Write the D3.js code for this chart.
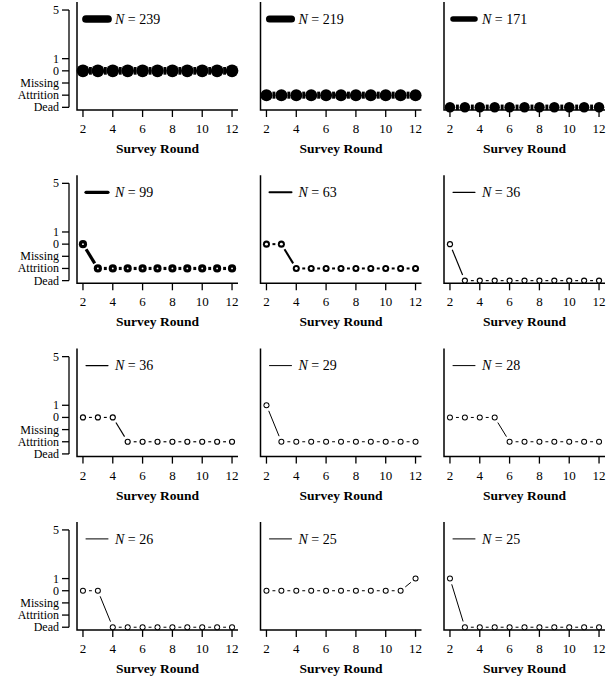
<!DOCTYPE html>
<html>
<head>
<meta charset="utf-8">
<script src="https://cdn.jsdelivr.net/npm/d3@7"></script>
<style>
  body { margin: 0; background: #fff; }
  text { font-family: "Liberation Serif", "DejaVu Serif", serif; fill: #000; }
</style>
</head>
<body>
<div id="my_dataviz"></div>
<script>
// survey rounds on the x axis
const rounds = [2, 3, 4, 5, 6, 7, 8, 9, 10, 11, 12];
const xTicks = [2, 4, 6, 8, 10, 12];

// y axis: numeric codes and their labels
const yTickValues = [5, 1, 0, -1, -2, -3];
const yTickLabels = ["5", "1", "0", "Missing", "Attrition", "Dead"];

// group sizes, one per panel
const counts = [239, 219, 171, 99, 63, 36, 36, 29, 28, 26, 25, 25];

// trajectory of each group (one value per round)
const traj1 = [0, 0, 0, 0, 0, 0, 0, 0, 0, 0, 0];
const traj2 = [-2, -2, -2, -2, -2, -2, -2, -2, -2, -2, -2];
const traj3 = [-3, -3, -3, -3, -3, -3, -3, -3, -3, -3, -3];
const traj4 = [0, -2, -2, -2, -2, -2, -2, -2, -2, -2, -2];
const traj5 = [0, 0, -2, -2, -2, -2, -2, -2, -2, -2, -2];
const traj6 = [0, -3, -3, -3, -3, -3, -3, -3, -3, -3, -3];
const traj7 = [0, 0, 0, -2, -2, -2, -2, -2, -2, -2, -2];
const traj8 = [1, -2, -2, -2, -2, -2, -2, -2, -2, -2, -2];
const traj9 = [0, 0, 0, 0, -2, -2, -2, -2, -2, -2, -2];
const traj10 = [0, 0, -3, -3, -3, -3, -3, -3, -3, -3, -3];
const traj11 = [0, 0, 0, 0, 0, 0, 0, 0, 0, 0, 1];
const traj12 = [1, -3, -3, -3, -3, -3, -3, -3, -3, -3, -3];
const trajectories = [traj1, traj2, traj3, traj4, traj5, traj6, traj7, traj8, traj9, traj10, traj11, traj12];

// layout
const width = 615, height = 683;
const colStep = 183.5, rowStep = 173.3;
const boxLeft = 77, boxRight = 238, boxTop = 2, boxBottom = 110;
const pointR = 2.5, gap = 6;

const svg = d3.select("#my_dataviz")
  .append("svg")
  .attr("width", width)
  .attr("height", height);

// shared scales (panel-local coordinates)
const x = d3.scaleLinear().domain([1.6, 12.4]).range([boxLeft, boxRight]);
const y = d3.scaleLinear().domain([-3.22, 5.66]).range([boxBottom, boxTop]);

counts.forEach((n, i) => {
  const col = i % 3, row = Math.floor(i / 3);
  const g = svg.append("g")
    .attr("transform", `translate(${col * colStep}, ${row * rowStep})`);

  const lw = Math.max(1, n / 31);
  const pts = rounds.map((r, j) => ({ r: r, v: trajectories[i][j] }));

  // L-shaped box
  g.append("path")
    .attr("d", `M${boxLeft},${boxTop}V${boxBottom}H${boxRight}`)
    .attr("fill", "none")
    .attr("stroke", "#000")
    .attr("stroke-width", 1.5);

  // x axis
  const xAxis = g.append("g").attr("transform", `translate(0, ${boxBottom})`);
  xAxis.selectAll("line")
    .data(xTicks)
    .join("line")
    .attr("x1", d => x(d)).attr("x2", d => x(d))
    .attr("y1", 0).attr("y2", 7)
    .attr("stroke", "#000").attr("stroke-width", 1.3);
  xAxis.selectAll("text")
    .data(xTicks)
    .join("text")
    .attr("x", d => x(d))
    .attr("y", 23)
    .attr("text-anchor", "middle")
    .style("font-size", "13px")
    .text(d => d);
  g.append("text")
    .attr("x", (x(2) + x(12)) / 2)
    .attr("y", 153)
    .attr("text-anchor", "middle")
    .style("font-size", "13.5px")
    .style("font-weight", "bold")
    .text("Survey Round");

  // y axis only on the first column
  if (col === 0) {
    const ax = 69;
    const yAxis = g.append("g");
    yAxis.append("path")
      .attr("d", `M${ax},${y(5)}V${y(-3)}`)
      .attr("stroke", "#000").attr("stroke-width", 1.3);
    yAxis.selectAll("line")
      .data(yTickValues)
      .join("line")
      .attr("x1", ax - 7).attr("x2", ax)
      .attr("y1", d => y(d)).attr("y2", d => y(d))
      .attr("stroke", "#000").attr("stroke-width", 1.3);
    yAxis.selectAll("text")
      .data(yTickValues)
      .join("text")
      .attr("x", ax - 10)
      .attr("y", d => y(d))
      .attr("dy", "0.33em")
      .attr("text-anchor", "end")
      .style("font-size", "12px")
      .text((d, k) => yTickLabels[k]);
  }

  // line segments with gaps around points (like type = "b")
  const segs = d3.pairs(pts).map(([a, b]) => {
    const x0 = x(a.r), y0 = y(a.v), x1 = x(b.r), y1 = y(b.v);
    const len = Math.hypot(x1 - x0, y1 - y0);
    const ux = (x1 - x0) / len, uy = (y1 - y0) / len;
    return { x0: x0 + ux * gap, y0: y0 + uy * gap, x1: x1 - ux * gap, y1: y1 - uy * gap };
  });
  g.append("g")
    .selectAll("line")
    .data(segs)
    .join("line")
    .attr("x1", d => d.x0).attr("y1", d => d.y0)
    .attr("x2", d => d.x1).attr("y2", d => d.y1)
    .attr("stroke", "#000")
    .attr("stroke-width", lw);

  // points: black disc, then white hole if the ring is thin enough
  const pg = g.append("g");
  pg.selectAll("circle.outer")
    .data(pts)
    .join("circle")
    .attr("class", "outer")
    .attr("cx", d => x(d.r))
    .attr("cy", d => y(d.v))
    .attr("r", pointR + lw / 2)
    .attr("fill", "#000");
  if (pointR - lw / 2 > 0) {
    pg.selectAll("circle.inner")
      .data(pts)
      .join("circle")
      .attr("class", "inner")
      .attr("cx", d => x(d.r))
      .attr("cy", d => y(d.v))
      .attr("r", pointR - lw / 2)
      .attr("fill", "#fff");
  }

  // legend
  const ly = 19;
  g.append("line")
    .attr("x1", boxLeft + 9).attr("x2", boxLeft + 31)
    .attr("y1", ly).attr("y2", ly)
    .attr("stroke", "#000")
    .attr("stroke-width", lw)
    .attr("stroke-linecap", "round");
  const lt = g.append("text")
    .attr("x", boxLeft + 38)
    .attr("y", ly)
    .attr("dy", "0.33em")
    .style("font-size", "14px");
  lt.append("tspan").style("font-style", "italic").text("N");
  lt.append("tspan").text(" = " + n);
});
</script>
</body>
</html>
